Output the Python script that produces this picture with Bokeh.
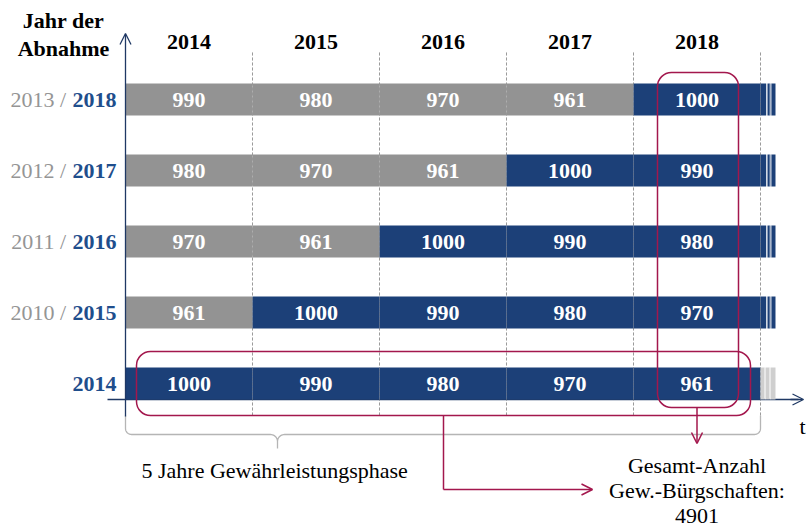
import numpy as np
from bokeh.plotting import figure
from bokeh.models import Range1d, ColumnDataSource, Arrow, OpenHead, BoxAnnotation
from bokeh.core.properties import value
from bokeh.embed import file_html
from bokeh.resources import INLINE

# ---------------- data ----------------
years = ["2014", "2015", "2016", "2017", "2018"]
row_gray_labels = ["2013 /", "2012 /", "2011 /", "2010 /", ""]
row_blue_labels = ["2018", "2017", "2016", "2015", "2014"]
row_2013_2018 = [990, 980, 970, 961, 1000]
row_2012_2017 = [980, 970, 961, 1000, 990]
row_2011_2016 = [970, 961, 1000, 990, 980]
row_2010_2015 = [961, 1000, 990, 980, 970]
row_2014 = [1000, 990, 980, 970, 961]
gray_counts = [4, 3, 2, 1, 0]   # leading cells from earlier acceptance (grey)
rows = [row_2013_2018, row_2012_2017, row_2011_2016, row_2010_2015, row_2014]
total = sum(r[-1] for r in rows)

GRAY = "#939393"
BLUE = "#1c4078"
LBLUE = "#1f4e8c"
LGRAY = "#959595"
RED = "#a3174d"
NAVY = "#1f3864"
FONT = value("Liberation Serif")
FS = "22px"
BL = 7  # baseline correction (px) for alphabetic-baseline texts

# layout scale (pixel geometry of one column / row)
PX_X0, PX_COL = 125.0, 127.0
PX_Y0, PX_ROW = 383.0, 71.0
def dx(px):
    return (px - PX_X0) / PX_COL
def dy(px):
    return (PX_Y0 - px) / PX_ROW

W, H = 807, 528
p = figure(width=W, height=H, output_backend="svg", toolbar_location=None,
           x_range=Range1d(dx(0), dx(W)), y_range=Range1d(dy(H), dy(0)),
           min_border=0)
p.axis.visible = False
p.grid.visible = False
p.outline_line_color = None

nrows = len(rows)
BAR_H = 32.0 / PX_ROW

# bars
L, R, Y, C, T, TX = [], [], [], [], [], []
for i, vals in enumerate(rows):
    yv = nrows - 1 - i
    for j, v in enumerate(vals):
        L.append(j); R.append(j + 1); Y.append(yv)
        C.append(GRAY if j < gray_counts[i] else BLUE)
        T.append(str(v)); TX.append(j + 0.5)
src = ColumnDataSource(dict(left=L, right=R, y=Y, color=C, text=T, tx=TX))

ncol = len(years)
p.segment(x0=list(range(1, ncol + 1)), x1=list(range(1, ncol + 1)),
          y0=[dy(52)] * ncol, y1=[dy(416)] * ncol,
          line_color="#9c9c9c", line_dash="3 2", line_width=1)

# x axis line (partly under bars)
p.segment(x0=[dx(107)], x1=[dx(798)], y0=[dy(399)], y1=[dy(399)], line_color=NAVY, line_width=1.3)

p.hbar(y="y", left="left", right="right", height=BAR_H, fill_color="color",
       line_color=None, source=src)

# continuation stripes at the right end
for i in range(nrows):
    yv = nrows - 1 - i
    if i < nrows - 1:
        segs = [(760, 765.7, BLUE), (767, 769.3, BLUE), (769.3, 771, "#a9b6cc"), (771, 775, BLUE)]
    else:
        segs = [(760, 764, "#cfcfcf"), (764, 765.5, "#e8e8e8"), (765.5, 769, "#cfcfcf"),
                (769, 770.5, "#e8e8e8"), (770.5, 775, "#cfcfcf")]
    p.hbar(y=[yv] * len(segs), left=[dx(a) for a, b, c in segs], right=[dx(b) for a, b, c in segs],
           height=BAR_H, fill_color=[c for a, b, c in segs], line_color=None)

p.segment(x0=list(range(1, ncol + 1)), x1=list(range(1, ncol + 1)),
          y0=[dy(52)] * ncol, y1=[dy(416)] * ncol,
          line_color="#9c9c9c", line_dash="3 2", line_width=1, line_alpha=0.35)

# value labels
p.text(x="tx", y="y", text="text", source=src, text_color="white", text_font=FONT,
       text_font_style="bold", text_font_size=FS, text_align="center", text_baseline="middle")

# year headers
p.text(x=[j + 0.5 for j in range(ncol)], y=[dy(48 - BL)] * ncol, text=years, text_color="black",
       text_font=FONT, text_font_style="bold", text_font_size=FS,
       text_align="center", text_baseline="alphabetic")

# row labels
ys = [nrows - 1 - i for i in range(nrows)]
p.text(x=[dx(116)] * nrows, y=ys, text=row_blue_labels, text_color=LBLUE, text_font=FONT,
       text_font_style="bold", text_font_size=FS, text_align="right", text_baseline="middle")
p.text(x=[dx(65.5)] * nrows, y=ys, text=row_gray_labels, text_color=LGRAY, text_font=FONT,
       text_font_size=FS, text_align="right", text_baseline="middle")

# y-axis title
p.text(x=[dx(63)] * 2, y=[dy(27 - BL), dy(55 - BL)], text=["Jahr der", "Abnahme"], text_color="black",
       text_font=FONT, text_font_style="bold", text_font_size=FS,
       text_align="center", text_baseline="alphabetic")

# axes arrows
p.add_layout(Arrow(end=OpenHead(size=11, line_color=NAVY, line_width=1.3), x_start=0, y_start=dy(416),
                   x_end=0, y_end=dy(33), line_color=NAVY, line_width=1.3))
p.add_layout(Arrow(end=OpenHead(size=11, line_color=NAVY, line_width=1.3), x_start=dx(790), y_start=dy(399),
                   x_end=dx(803), y_end=dy(399), line_color=NAVY, line_width=1.3))
p.text(x=[dx(802)], y=[dy(433 - BL)], text=["t"], text_color="black", text_font=FONT,
       text_font_size=FS, text_align="center", text_baseline="alphabetic")

# brace
def arc(cx, cy, r, a0, a1, n=12):
    a = np.linspace(np.radians(a0), np.radians(a1), n)
    return list(cx + r * np.cos(a)), list(cy + r * np.sin(a))
bx, by = [125.0], [415.0]
ax_, ay_ = arc(131, 428, 6, 180, 90); bx += ax_; by += ay_
ax_, ay_ = arc(270, 441, 7, 270, 360); bx += ax_; by += ay_
bx += [277]; by += [448]
ax_, ay_ = arc(284, 441, 7, 180, 270); bx += ax_; by += ay_
ax_, ay_ = arc(754, 428, 6, 90, 0); bx += ax_; by += ay_
bx += [760]; by += [415]
p.line(x=[dx(v) for v in bx], y=[dy(v) for v in by], line_color="#b5b5b5", line_width=1.3)

# highlight boxes
p.add_layout(BoxAnnotation(left=dx(657), right=dx(738), top=dy(72), bottom=dy(407),
                           fill_alpha=0, line_alpha=1, line_color=RED, line_width=1.5, border_radius=14))
p.add_layout(BoxAnnotation(left=dx(136), right=dx(750), top=dy(351), bottom=dy(415),
                           fill_alpha=0, line_alpha=1, line_color=RED, line_width=1.5, border_radius=14))

# red arrows
p.add_layout(Arrow(end=OpenHead(size=11, line_color=RED, line_width=1.5), x_start=4.5, y_start=dy(407),
                   x_end=4.5, y_end=dy(443), line_color=RED, line_width=1.5))
p.segment(x0=[dx(443)], x1=[dx(443)], y0=[dy(415)], y1=[dy(489)], line_color=RED, line_width=1.5)
p.add_layout(Arrow(end=OpenHead(size=11, line_color=RED, line_width=1.5), x_start=dx(443), y_start=dy(489),
                   x_end=dx(592), y_end=dy(489), line_color=RED, line_width=1.5))

# annotation texts
p.text(x=[dx(141)], y=[dy(477 - BL)], text=["5 Jahre Gewährleistungsphase"], text_color="black",
       text_font=FONT, text_font_size=FS, text_align="left", text_baseline="alphabetic")
p.text(x=[4.5] * 3, y=[dy(472 - BL), dy(497 - BL), dy(522 - BL)],
       text=["Gesamt-Anzahl", "Gew.-Bürgschaften:", str(total)], text_color="black",
       text_font=FONT, text_font_size=FS, text_align="center", text_baseline="alphabetic")

open("out.html", "w").write(file_html(p, INLINE))
